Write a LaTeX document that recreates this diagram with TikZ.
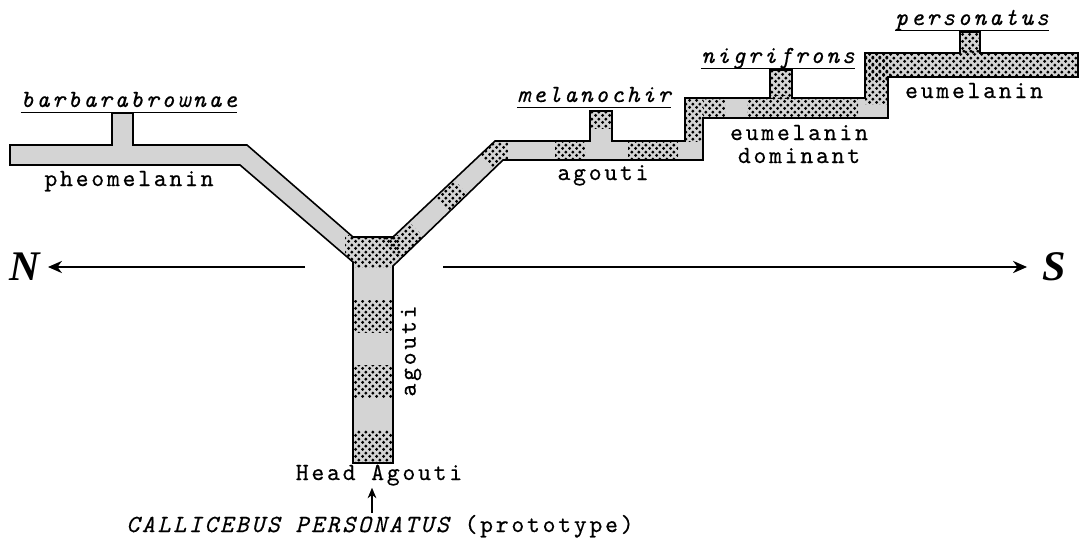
\documentclass[tikz,border=0pt]{standalone}
\usepackage{fontspec}
\setmainfont{Liberation Serif}
\newfontfamily\twfam{lmmono10-regular}[Extension=.otf, ItalicFont=lmmono10-italic, LetterSpace=11, FakeBold=0.4]
\usetikzlibrary{arrows.meta,patterns}

% halftone dots of the coloured band
\pgfdeclarepatternformonly{halftone}{\pgfqpoint{0pt}{0pt}}{\pgfqpoint{3.8pt}{3.8pt}}{\pgfqpoint{3.8pt}{3.8pt}}{%
  \pgfpathcircle{\pgfqpoint{0.95pt}{0.95pt}}{0.95pt}%
  \pgfpathcircle{\pgfqpoint{2.85pt}{2.85pt}}{0.95pt}%
  \pgfusepath{fill}}

\newcommand{\tw}{\fontsize{14}{16}\selectfont\twfam}

\newcommand{\bandoutline}{(10,165) -- (10,145) -- (112,145) -- (112,113) -- (133,113) -- (133,145)
  -- (247,145) -- (353,237) -- (393,237) -- (495,141) -- (590,141) -- (590,111) -- (612,111)
  -- (612,141) -- (685,141) -- (685,98) -- (770,98) -- (770,70) -- (792,70) -- (792,98)
  -- (865,98) -- (865,53) -- (960,53) -- (960,32) -- (980,32) -- (980,53) -- (1078,53)
  -- (1078,77) -- (888,77) -- (888,118) -- (703,118) -- (703,160) -- (503,160) -- (393,266)
  -- (393,463) -- (353,463) -- (353,262) -- (240,165) -- cycle}

\tikzset{
  bandedge/.style={draw, line width=0.9pt, line join=miter},
  halftonepatch/.style={pattern=halftone, pattern color=black},
  typed/.style={font=\tw, inner sep=1pt},
  species/.style={font=\tw\itshape, inner sep=1pt, inner xsep=0pt},
  uline/.style={line width=0.6pt},
  dirlabel/.style={font=\bfseries\itshape\fontsize{24}{24}\selectfont, inner ysep=1pt},
  dirarrow/.style={line width=0.7pt, -{Stealth[length=8pt,width=7pt]}}
}

\begin{document}
\begin{tikzpicture}[x=0.02cm, y=-0.02cm]
  \useasboundingbox (0,0) rectangle (1084,551);

  % Band
  \fill[black!17] \bandoutline;
  \begin{scope}
    \clip \bandoutline;
    % stem and fork
    \fill[halftonepatch] (345,235) rectangle (400,267);
    \fill[halftonepatch] (375.7,233.4) -- (399,211.2) -- (433.6,247.4) -- (410.3,269.6) -- cycle;
    \fill[halftonepatch] (350,300) rectangle (396,332);
    \fill[halftonepatch] (350,365) rectangle (396,397);
    \fill[halftonepatch] (350,430) rectangle (396,465);
    % rising arm
    \fill[halftonepatch] (425.5,185.9) -- (443.5,168.8) -- (478.1,205) -- (460.1,222.1) -- cycle;
    \fill[halftonepatch] (469,144.5) -- (480,130) -- (508,130) -- (508,175) -- (503.6,180.7) -- cycle;
    % melanochir
    \fill[halftonepatch] (555,135) rectangle (585,165);
    \fill[halftonepatch] (588,108) rectangle (614,128);
    \fill[halftonepatch] (628,135) rectangle (678,165);
    % nigrifrons
    \fill[halftonepatch] (683,95) rectangle (703,141);
    \fill[halftonepatch] (703,95) rectangle (725,120);
    \fill[halftonepatch] (747,95) rectangle (858,120);
    \fill[halftonepatch] (768,65) rectangle (794,98);
    % personatus
    \fill[halftonepatch] (865,50) rectangle (890,104);
    \fill[halftonepatch] (865,50) rectangle (1080,80);
    \fill[halftonepatch] (958,30) rectangle (982,53);
  \end{scope}
  \draw[bandedge] \bandoutline;

  % Species
  \node[species, anchor=base] (barb) at (129,107) {barbarabrownae};
  \node[species, anchor=base] (melan) at (594,102) {melanochir};
  \node[species, anchor=base] (nigri) at (778,63) {nigrifrons};
  \node[species, anchor=base] (perso) at (972,25) {personatus};
  \foreach \sp in {barb,melan,nigri,perso}
    \draw[uline] ([yshift=-3.3pt]\sp.base west) -- ([yshift=-3.3pt]\sp.base east);

  % Colour labels
  \node[typed, anchor=base] (pheo) at (129,186) {pheomelanin};
  \node[typed, anchor=base] (agoutiarm) at (603,180) {agouti};
  \node[typed, anchor=base] (eumdom) at (799,140) {eumelanin};
  \node[typed, anchor=base] (eumdomb) at (799,163) {dominant};
  \node[typed, anchor=base] (eum) at (974,98) {eumelanin};
  \node[typed, rotate=90] (agoutistem) at (411,351) {agouti};

  % Prototype
  \node[typed, anchor=base] (head) at (379,480) {Head Agouti};
  \node[typed, anchor=base] (proto) at (380,532) {{\itshape CALLICEBUS PERSONATUS} (prototype)};
  \coordinate (protoarrow) at (372,513);
  \draw[line width=0.7pt, -{Stealth[length=6pt,width=5pt]}] (protoarrow) -- (protoarrow |- head.south);

  % North - South
  \coordinate (westend) at (305,267);
  \coordinate (eastend) at (443,267);
  \node[dirlabel, anchor=east, inner xsep=4.5pt] (N) at (48,267) {N};
  \node[dirlabel, anchor=west, inner xsep=8.5pt] (S) at (1027,267) {S};
  \draw[dirarrow] (westend) -- (N);
  \draw[dirarrow] (eastend) -- (S);
\end{tikzpicture}
\end{document}
